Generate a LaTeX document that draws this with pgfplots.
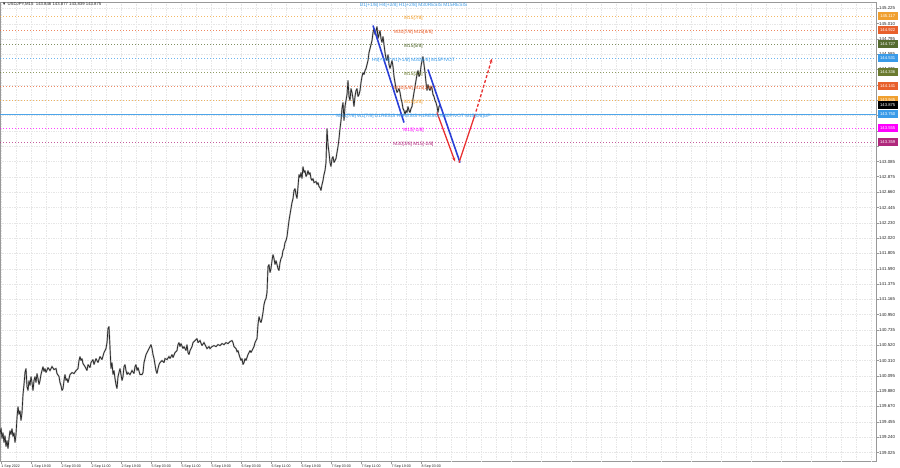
\documentclass[border=0pt]{standalone}
\usepackage{fontspec}
\setmainfont{Liberation Sans}
\usepackage{pgfplots}
\pgfplotsset{compat=1.18}
\usetikzlibrary{arrows.meta}
\definecolor{lvOrange}{HTML}{F0A030}
\definecolor{lvRed}{HTML}{E8602C}
\definecolor{lvDkOlive}{HTML}{556B2F}
\definecolor{lvBlue}{HTML}{3A9BE8}
\definecolor{lvOlive}{HTML}{6B7B30}
\definecolor{lvMag}{HTML}{FF00FF}
\definecolor{lvPurp}{HTML}{B0287C}
\definecolor{projBlue}{HTML}{2B3FD6}
\definecolor{projRed}{HTML}{E83030}
\definecolor{gridc}{HTML}{E6E6E6}
\pgfplotstableread{
x y
0 139.276
1 139.374
2 139.221
3 139.304
4 139.165
5 139.262
6 139.109
7 139.193
8 139.081
9 139.221
10 139.332
11 139.276
12 139.360
13 139.249
14 139.304
15 139.165
16 139.276
17 139.514
18 139.667
19 139.556
20 139.611
21 139.472
22 139.583
23 139.835
24 139.974
25 140.142
26 140.198
27 139.946
28 139.891
29 140.030
30 139.960
31 140.086
32 140.002
33 139.891
34 140.030
35 140.086
36 140.002
37 140.128
38 140.058
39 139.974
40 140.030
41 140.114
42 140.170
43 140.225
44 140.156
45 140.198
46 140.142
48 140.211
50 140.170
52 140.225
54 140.184
56 140.198
57 140.128
59 140.086
60 140.002
61 139.960
62 139.891
63 139.918
64 140.030
65 140.114
66 140.030
67 140.058
68 140.002
70 140.114
72 140.142
74 140.128
76 140.170
78 140.198
79 140.309
80 140.365
81 140.309
82 140.337
83 140.267
85 140.225
87 140.170
88 140.253
90 140.211
91 140.281
93 140.323
94 140.253
96 140.337
98 140.281
100 140.365
102 140.323
104 140.421
106 140.477
107 140.560
108 140.756
109 140.784
110 140.490
111 140.198
112 140.281
113 140.114
114 140.170
115 140.058
116 139.974
117 139.918
118 140.086
119 140.142
120 140.198
121 140.114
122 140.030
123 140.086
124 140.225
125 140.253
126 140.170
127 140.114
128 140.142
130 140.114
132 140.170
134 140.128
135 140.225
136 140.253
137 140.170
138 140.211
140 140.114
142 140.114
143 140.142
144 140.281
145 140.337
146 140.393
148 140.449
150 140.504
151 140.532
152 140.477
153 140.393
154 140.337
155 140.253
156 140.170
157 140.128
158 140.198
159 140.253
160 140.281
162 140.309
164 140.281
165 140.337
167 140.323
169 140.365
170 140.337
172 140.393
173 140.351
175 140.421
177 140.449
178 140.532
179 140.560
180 140.504
181 140.546
183 140.477
184 140.504
186 140.449
187 140.532
188 140.421
189 140.393
190 140.449
192 140.504
193 140.560
195 140.588
197 140.616
198 140.560
200 140.588
202 140.518
204 140.560
205 140.532
207 140.477
209 140.504
210 140.477
212 140.504
214 140.518
216 140.504
218 140.532
220 140.518
222 140.546
224 140.532
226 140.560
228 140.546
230 140.574
232 140.588
233 140.560
234 140.504
236 140.477
237 140.435
238 140.449
239 140.393
240 140.351
241 140.309
242 140.337
243 140.253
244 140.281
245 140.337
246 140.309
248 140.393
250 140.449
251 140.421
253 140.477
254 140.504
255 140.560
256 140.588
257 140.616
258 140.811
259 140.923
260 140.867
261 140.839
262 140.895
263 140.979
264 141.091
265 141.146
266 141.174
267 141.258
268 141.621
269 141.649
270 141.537
271 141.593
272 141.705
273 141.788
274 141.733
275 141.649
276 141.705
277 141.649
278 141.593
279 141.565
280 141.677
281 141.733
282 141.760
283 141.844
284 141.872
285 141.956
286 141.984
287 142.040
288 142.151
289 142.263
290 142.347
291 142.430
292 142.514
293 142.570
294 142.682
295 142.709
296 142.626
297 142.570
298 142.737
299 142.905
300 142.863
301 142.933
302 142.849
303 143.016
304 142.933
305 142.961
306 142.877
307 142.905
308 142.961
309 142.905
310 142.933
311 142.849
312 142.821
313 142.849
314 142.793
316 142.807
317 142.765
318 142.793
319 142.737
320 142.723
321 142.682
322 142.765
323 142.821
324 142.905
325 142.961
326 143.072
327 143.547
328 143.323
329 143.212
330 143.072
331 143.016
332 143.128
333 143.156
334 143.072
335 143.100
336 143.128
337 143.212
338 143.296
339 143.407
340 143.547
341 143.658
342 143.826
343 143.910
344 143.658
345 143.854
346 143.937
347 144.021
348 144.217
349 143.993
350 143.937
351 144.105
352 144.049
353 143.965
354 143.854
355 143.993
356 144.077
357 144.105
358 143.993
359 144.021
360 144.077
361 144.189
362 144.272
363 144.328
364 144.300
365 144.356
366 144.384
367 144.440
368 144.496
369 144.607
370 144.663
371 144.719
372 144.775
373 144.886
374 144.942
375 144.858
376 144.914
377 144.970
378 144.803
379 144.858
380 144.914
381 144.803
382 144.747
383 144.831
384 144.719
385 144.607
386 144.524
387 144.496
388 144.579
389 144.440
390 144.384
391 144.440
392 144.496
393 144.412
394 144.272
395 144.189
396 144.105
397 144.049
398 144.077
399 144.105
400 144.049
401 143.965
402 143.910
403 143.826
404 143.798
405 143.742
406 143.798
407 143.770
408 143.854
409 143.798
410 143.770
411 143.826
412 143.854
413 143.965
414 144.049
415 144.133
416 144.217
417 144.300
418 144.356
419 144.272
420 144.300
421 144.412
422 144.496
423 144.551
424 144.440
425 144.328
426 144.189
427 144.077
428 144.161
429 144.105
430 144.077
431 144.133
432 144.105
433 144.021
434 143.993
435 143.937
436 143.910
437 143.854
438 143.770
439 143.854
440 143.875
}\price
\begin{document}
\begin{tikzpicture}[x=1bp,y=1bp]
\path[use as bounding box] (0,0) rectangle (900,468);
\begin{axis}[
  at={(0,9)}, anchor=south west, scale only axis,
  width=876bp, height=459bp,
  xmin=0, xmax=876, ymin=138.900, ymax=145.305,
  axis line style={draw=gray!80, line width=0.5bp},
  tick style={draw=gray!80, line width=0.4bp},
  tick align=outside, major tick length=2.5bp,
  xtick pos=bottom, ytick pos=right, yticklabel pos=right,
  xtick={1,31,...,421},
  xticklabels={1 Sep 2022,1 Sep 19:00,2 Sep 03:00,2 Sep 11:00,2 Sep 19:00,5 Sep 03:00,5 Sep 11:00,5 Sep 19:00,6 Sep 03:00,6 Sep 11:00,6 Sep 19:00,7 Sep 03:00,7 Sep 11:00,7 Sep 19:00,8 Sep 03:00},
  minor xtick={16,46,...,856},
  extra x ticks={451,481,...,871},
  extra x tick labels={},
  extra x tick style={grid=major, major tick length=0pt},
  xticklabel style={anchor=north west, inner xsep=0.3bp, inner ysep=0.8bp, font=\fontsize{3.6}{4}\selectfont, text=black!85},
  ytick={139.025,139.240,139.455,139.670,139.880,140.095,140.310,140.520,140.735,140.950,141.165,141.375,141.590,141.805,142.020,142.230,142.445,142.660,142.875,143.085,143.300,143.515,143.730,143.940,144.155,144.375,144.585,144.795,145.010,145.225},
  yticklabels={139.025,139.240,139.455,139.670,139.880,140.095,140.310,140.520,140.735,140.950,141.165,141.375,141.590,141.805,142.020,142.230,142.445,142.660,142.875,143.085,,,,,,144.375,144.585,144.795,145.010,145.225},
  yticklabel style={anchor=west, inner xsep=0.5bp, font=\fontsize{4.4}{4.6}\selectfont, text=black!85},
  grid=both,
  major grid style={draw=gridc, line width=0.35bp, dash pattern=on 0.7bp off 1bp},
  minor grid style={draw=gridc, line width=0.35bp, dash pattern=on 0.7bp off 1bp},
  minor tick length=0pt,
  clip=true,
]
% Murrey levels
\pgfplotsset{lvl/.style={line width=0.45bp, dash pattern=on 1.2bp off 1.8bp, draw opacity=0.75}}
\addplot[lvOrange, lvl] coordinates {(0,145.117) (876,145.117)};
\addplot[lvRed, lvl] coordinates {(0,144.922) (876,144.922)};
\addplot[lvDkOlive, lvl] coordinates {(0,144.727) (876,144.727)};
\addplot[lvBlue, lvl] coordinates {(0,144.531) (876,144.531)};
\addplot[lvOlive, lvl] coordinates {(0,144.336) (876,144.336)};
\addplot[lvRed, lvl] coordinates {(0,144.141) (876,144.141)};
\addplot[lvOrange, lvl] coordinates {(0,143.945) (876,143.945)};
\addplot[lvBlue, line width=0.6bp, draw opacity=0.9] coordinates {(0,143.750) (876,143.750)};
\addplot[lvMag, lvl] coordinates {(0,143.555) (876,143.555)};
\addplot[lvPurp, lvl] coordinates {(0,143.359) (876,143.359)};
% price (wick shading underneath, then bodies)
\addplot[gray!55, line width=1.6bp, line join=miter, miter limit=2] table[x=x,y=y] {\price};
\addplot[black!85, line width=0.7bp, line join=miter, miter limit=2] table[x=x,y=y] {\price};
% projections
\addplot[projBlue, line width=1.6bp] coordinates {(373,144.984) (404,143.630)};
\addplot[projBlue, line width=1.6bp] coordinates {(428,144.370) (460,143.072)};
\addplot[projRed, line width=1.3bp, -{Stealth[length=4bp,width=3bp]}] coordinates {(437,143.770) (455,143.086)};
\addplot[projRed, line width=1.3bp] coordinates {(459,143.072) (475,143.742)};
\addplot[projRed, line width=1.3bp, dash pattern=on 3bp off 2bp, -{Stealth[length=4bp,width=3bp]}] coordinates {(476,143.784) (492,144.524)};
% labels
\begin{scope}[every node/.style={anchor=north, inner sep=0.3bp, font=\fontsize{4.8}{5}\selectfont}]
\node[text=lvBlue] at (axis cs:413.5,145.300) {D1[+1/8] H4[+2/8] H1[+2/8] M30RESIS M15RESIS};
\node[text=lvOrange] at (axis cs:413.5,145.117) {M15[7/8]};
\node[text=lvRed] at (axis cs:413.5,144.922) {M30[7/8] M15[6/8]};
\node[text=lvDkOlive] at (axis cs:413.5,144.727) {M15[5/8]};
\node[text=lvBlue] at (axis cs:413.5,144.531) {H4[+1/8] H1[+1/8] M30[6/8] M15PIVOT};
\node[text=lvOlive] at (axis cs:413.5,144.336) {M15[3/8]};
\node[text=lvRed] at (axis cs:413.5,144.141) {M30[5/8] M15[2/8]};
\node[text=lvOrange] at (axis cs:413.5,143.945) {M15[1/8]};
\node[text=lvBlue] at (axis cs:413.5,143.750) {MN1[7/8] W1[7/8] D1RESIS H4RESIS H1RESIS M30PIVOT M15[0/8]UP};
\node[text=lvMag] at (axis cs:413.5,143.555) {M15[-1/8]};
\node[text=lvPurp] at (axis cs:413.5,143.359) {M30[3/8] M15[-2/8]};
\end{scope}
\coordinate (b1) at (axis cs:876,145.117);
\coordinate (b2) at (axis cs:876,144.922);
\coordinate (b3) at (axis cs:876,144.727);
\coordinate (b4) at (axis cs:876,144.531);
\coordinate (b5) at (axis cs:876,144.336);
\coordinate (b6) at (axis cs:876,144.141);
\coordinate (b7) at (axis cs:876,143.945);
\coordinate (b8) at (axis cs:876,143.875);
\coordinate (b9) at (axis cs:876,143.750);
\coordinate (b10) at (axis cs:876,143.555);
\coordinate (b11) at (axis cs:876,143.359);
\end{axis}
\begin{scope}[every node/.style={anchor=west, text=white, inner sep=0pt, minimum width=20bp, minimum height=7.2bp, font=\fontsize{4.2}{4.5}\selectfont}]
\node[fill=lvOrange] at ([xshift=1.5bp]b1) {145.117};
\node[fill=lvRed] at ([xshift=1.5bp]b2) {144.922};
\node[fill=lvDkOlive] at ([xshift=1.5bp]b3) {144.727};
\node[fill=lvBlue] at ([xshift=1.5bp]b4) {144.531};
\node[fill=lvOlive] at ([xshift=1.5bp]b5) {144.336};
\node[fill=lvRed] at ([xshift=1.5bp]b6) {144.141};
\node[fill=lvOrange] at ([xshift=1.5bp]b7) {143.945};
\node[fill=black] at ([xshift=1.5bp]b8) {143.875};
\node[fill=lvBlue] at ([xshift=1.5bp]b9) {143.750};
\node[fill=lvMag] at ([xshift=1.5bp]b10) {143.555};
\node[fill=lvPurp] at ([xshift=1.5bp]b11) {143.359};
\end{scope}
\node[anchor=west, inner sep=0pt, font=\fontsize{4.3}{5}\selectfont, text=black!85] at (2,463.5) {▼ USDJPY,M15\ \ 143.846 143.877 143.839 143.875};
\end{tikzpicture}
\end{document}
